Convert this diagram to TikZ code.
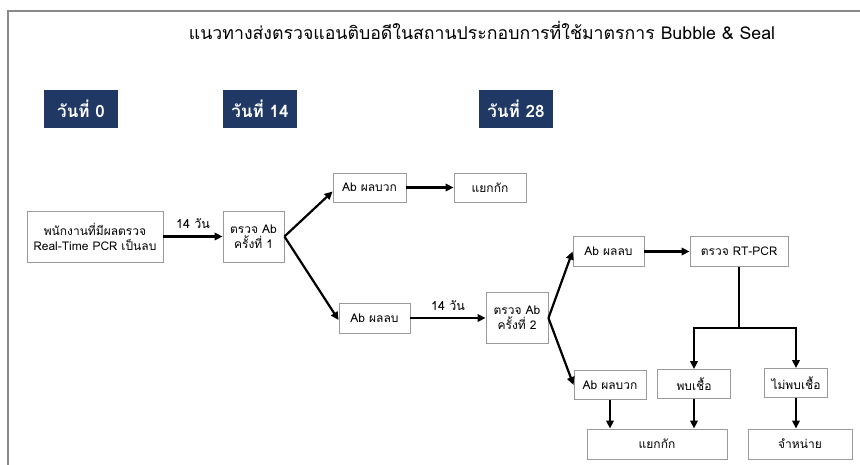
\documentclass[tikz,border=0pt]{standalone}
\usepackage{fontspec}
\setmainfont[Script=Thai]{Loma}
\usetikzlibrary{arrows.meta}
\definecolor{navy}{HTML}{1F3864}
\definecolor{framegray}{HTML}{8A8A8A}
\definecolor{boxgray}{HTML}{9A9A9A}
\begin{document}
\begin{tikzpicture}[x=1pt,y=-1pt,
  box/.style={draw=boxgray, line width=0.9pt, fill=white, align=center, inner sep=1pt,
    font=\fontsize{12}{15}\selectfont},
  daybox/.style={fill=navy, text=white, font=\bfseries\fontsize{17}{20}\selectfont,
    minimum width=74pt, minimum height=38pt, inner sep=0pt},
  conn/.style={line width=2.2pt, -{Triangle[length=8pt,width=7.5pt]}},
  plain/.style={line width=2.2pt},
  lbl/.style={font=\fontsize{12.5}{14}\selectfont, inner sep=1pt},
  framestyle/.style={draw=framegray, line width=1.5pt}
]
\useasboundingbox (0,0) rectangle (860,465);
\fill[white] (0,0) rectangle (860,465);
% frame
\coordinate (fl) at (8,465);
\coordinate (fc) at (8,11);
\coordinate (fr) at (860,11);
\draw[framestyle] (fl) -- (fc) -- (fr);

% title
\node[font=\fontsize{17.7}{21}\selectfont, anchor=base, inner sep=0pt] (title) at (482,40)
  {แนวทางส่งตรวจแอนติบอดีในสถานประกอบการที่ใช้มาตรการ Bubble \& Seal};

% day boxes
\node[daybox] (d0) at (81,109) {วันที่ 0};
\node[daybox] (d14) at (260,109) {วันที่ 14};
\node[daybox] (d28) at (516,109) {วันที่ 28};

% boxes
\node[box, minimum width=136pt, minimum height=51pt] (p0) at (95,236.5)
  {พนักงานที่มีผลตรวจ\\Real-Time PCR เป็นลบ};
\node[box, minimum width=61pt, minimum height=51pt] (c1) at (253.5,236.5)
  {ตรวจ Ab\\ครั้งที่ 1};
\node[box, minimum width=73pt, minimum height=29pt] (pos1) at (369.5,187.5) {Ab ผลบวก};
\node[box, minimum width=72pt, minimum height=29pt] (iso1) at (490,187.5) {แยกกัก};
\node[box, minimum width=71pt, minimum height=30pt] (neg1) at (374.5,318) {Ab ผลลบ};
\node[box, minimum width=62pt, minimum height=51pt] (c2) at (517,318)
  {ตรวจ Ab\\ครั้งที่ 2};
\node[box, minimum width=71pt, minimum height=30pt] (neg2) at (608.5,251.5) {Ab ผลลบ};
\node[box, minimum width=98pt, minimum height=30pt] (rt) at (739,251.5) {ตรวจ RT-PCR};
\node[box, minimum width=72pt, minimum height=29pt] (pos2) at (610,385) {Ab ผลบวก};
\node[box, minimum width=73pt, minimum height=29pt] (found) at (694,384) {พบเชื้อ};
\node[box, minimum width=63pt, minimum height=29pt] (notfound) at (796,383) {ไม่พบเชื้อ};
\node[box, minimum width=140pt, minimum height=30pt] (iso2) at (657,444) {แยกกัก};
\node[box, minimum width=104pt, minimum height=30pt] (disc) at (800,444) {จำหน่าย};

% connectors
\draw[conn] (p0.east) -- node[lbl, above=6pt] (l14a) {14 วัน} (c1.west);
\draw[conn] (c1.east) -- ([yshift=-4pt]pos1.west);
\draw[conn] (c1.east) -- ([yshift=-2pt]neg1.west);
\draw[conn] (pos1.east) -- (iso1.west);
\draw[conn] (neg1.east) -- node[lbl, above=5pt] (l14b) {14 วัน} (c2.west);
\draw[conn] (c2.east) -- (neg2.west);
\draw[conn] (c2.east) -- (pos2.west);
\draw[conn] (neg2.east) -- (rt.west);
\coordinate (j) at (739,328);
\draw[plain] (rt.south) -- (j);
\draw[conn] (j) -| (found.north);
\draw[conn] (j) -| (notfound.north);
\draw[conn] (pos2.south) -- (pos2.south |- iso2.north);
\draw[conn] (found.south) -- (found.south |- iso2.north);
\draw[conn] (notfound.south) -- (notfound.south |- disc.north);
\end{tikzpicture}
\end{document}
